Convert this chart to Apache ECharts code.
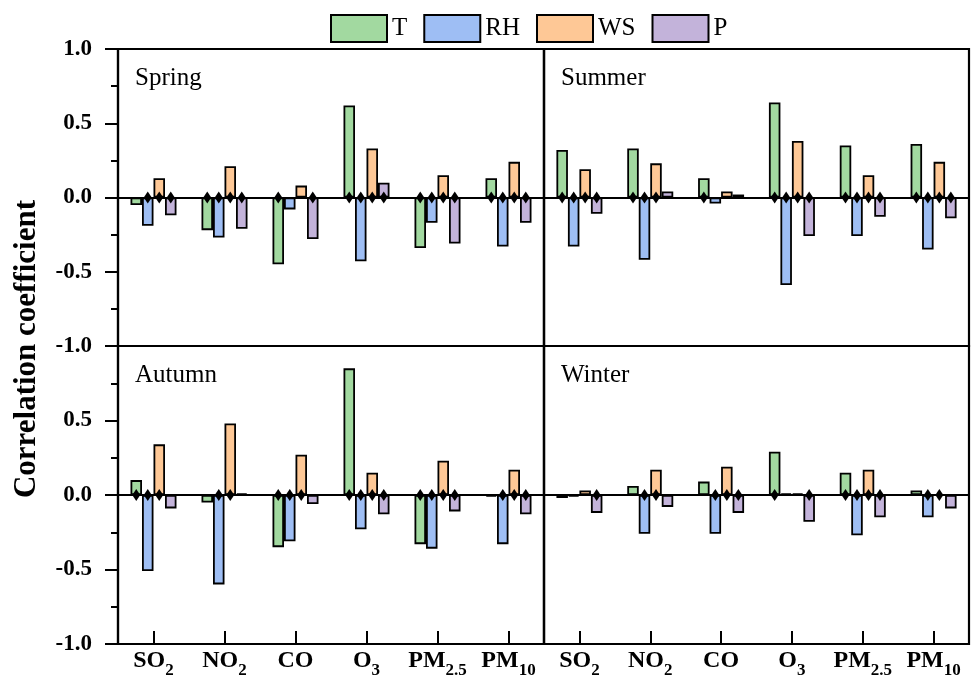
<!DOCTYPE html>
<html>
<head>
<meta charset="utf-8">
<style>
  html, body { margin: 0; padding: 0; background: #fff; }
  #chart { width: 972px; height: 682px; }
</style>
<script src="https://cdn.jsdelivr.net/npm/echarts@6/dist/echarts.min.js"></script>
</head>
<body>
<div id="chart"></div>
<script>
// Pollutants on the category axis
const pollutants = ['SO2', 'NO2', 'CO', 'O3', 'PM2.5', 'PM10'];
// Meteorological factors (one bar series each)
const factors = ['T', 'RH', 'WS', 'P'];
const factorColors = ['#a2d9a0', '#9ebef4', '#fec896', '#c3b3da'];
const seasons = ['Spring', 'Summer', 'Autumn', 'Winter'];
const yTicks = [-1, -0.5, 0, 0.5, 1];

// Correlation coefficients, one array per factor, per season
const springT  = [-0.05, -0.22, -0.45, 0.62, -0.34, 0.13];
const springRH = [-0.19, -0.27, -0.08, -0.43, -0.17, -0.33];
const springWS = [0.13, 0.21, 0.08, 0.33, 0.15, 0.24];
const springP  = [-0.12, -0.21, -0.28, 0.10, -0.31, -0.17];

const summerT  = [0.32, 0.33, 0.13, 0.64, 0.35, 0.36];
const summerRH = [-0.33, -0.42, -0.04, -0.59, -0.26, -0.35];
const summerWS = [0.19, 0.23, 0.04, 0.38, 0.15, 0.24];
const summerP  = [-0.11, 0.04, 0.02, -0.26, -0.13, -0.14];

const autumnT  = [0.10, -0.05, -0.35, 0.85, -0.33, -0.01];
const autumnRH = [-0.51, -0.60, -0.31, -0.23, -0.36, -0.33];
const autumnWS = [0.34, 0.48, 0.27, 0.15, 0.23, 0.17];
const autumnP  = [-0.09, 0.01, -0.06, -0.13, -0.11, -0.13];

const winterT  = [-0.02, 0.06, 0.09, 0.29, 0.15, 0.03];
const winterRH = [-0.01, -0.26, -0.26, 0.01, -0.27, -0.15];
const winterWS = [0.03, 0.17, 0.19, 0.01, 0.17, 0.00];
const winterP  = [-0.12, -0.08, -0.12, -0.18, -0.15, -0.09];

// Significance markers (1 = diamond drawn at the bar's base)
const springSig = [[0,1,1,1,1,1], [1,1,0,1,1,1], [1,1,0,1,1,1], [1,1,1,1,1,1]];
const summerSig = [[1,1,1,1,1,1], [1,1,0,1,1,1], [1,1,0,1,1,1], [1,0,0,1,1,1]];
const autumnSig = [[1,0,1,1,1,0], [1,1,1,1,1,1], [1,1,1,1,1,1], [0,0,0,1,1,1]];
const winterSig = [[0,0,0,1,1,0], [0,1,1,0,1,1], [0,1,1,0,1,1], [1,0,1,1,1,0]];

const seasonValues = [
  [springT, springRH, springWS, springP],
  [summerT, summerRH, summerWS, summerP],
  [autumnT, autumnRH, autumnWS, autumnP],
  [winterT, winterRH, winterWS, winterP]
];
const seasonSig = [springSig, summerSig, autumnSig, winterSig];

const FONT = 'Liberation Serif';

// Panel layout: 2 x 2
const panels = [
  { left: 118, top: 49, width: 426, height: 297, col: 0, row: 0 },
  { left: 544, top: 49, width: 425, height: 297, col: 1, row: 0 },
  { left: 118, top: 346, width: 426, height: 298, col: 0, row: 1 },
  { left: 544, top: 346, width: 425, height: 298, col: 1, row: 1 }
];

function pollutantLabel(name) {
  const m = name.match(/^([A-Z]+)([\d.]*)$/);
  if (!m || !m[2]) return '{b|' + name + '}';
  return '{b|' + m[1] + '}{s|' + m[2] + '}';
}

const grids = [], xAxes = [], yAxes = [], series = [], titles = [];

panels.forEach((p, g) => {
  grids.push({
    left: p.left, top: p.top, width: p.width, height: p.height,
    show: true, borderColor: '#000', borderWidth: 2.2, containLabel: false
  });

  // zero line axis
  xAxes.push({
    type: 'category', gridIndex: g, data: pollutants,
    axisLine: { show: true, onZero: true, lineStyle: { color: '#000', width: 2.2 } },
    axisTick: { show: false }, axisLabel: { show: false }, splitLine: { show: false }
  });
  // bottom axis with ticks and labels
  xAxes.push({
    type: 'category', gridIndex: g, data: pollutants, position: 'bottom',
    axisLine: { show: true, onZero: false, lineStyle: { color: '#000', width: 2.2 } },
    axisTick: { show: p.row === 1, inside: true, length: 13, alignWithLabel: true,
                lineStyle: { color: '#000', width: 2 } },
    axisLabel: {
      show: p.row === 1, margin: 5, interval: 0,
      formatter: pollutantLabel,
      rich: {
        b: { fontFamily: FONT, fontWeight: 'bold', fontSize: 24, color: '#000',
             lineHeight: 26, verticalAlign: 'top' },
        s: { fontFamily: FONT, fontWeight: 'bold', fontSize: 17, color: '#000',
             lineHeight: 17, padding: [13, 0, 0, 0], verticalAlign: 'top' }
      }
    },
    splitLine: { show: false }
  });

  yAxes.push({
    type: 'value', gridIndex: g, min: yTicks[0], max: yTicks[yTicks.length - 1], interval: 0.5,
    axisLine: { show: true, lineStyle: { color: '#000', width: 2.2 } },
    axisTick: { show: p.col === 0, inside: false, length: 13, lineStyle: { color: '#000', width: 2 } },
    minorTick: { show: p.col === 0, splitNumber: 2, length: 7, lineStyle: { color: '#000', width: 2 } },
    axisLabel: {
      show: p.col === 0, margin: 26, showMaxLabel: p.row === 0,
      fontFamily: FONT, fontWeight: 'bold', fontSize: 23, color: '#000',
      formatter: v => v.toFixed(1)
    },
    splitLine: { show: false }
  });

  titles.push({
    text: seasons[g],
    left: p.left + 12, top: p.top + 12,
    textStyle: { fontFamily: FONT, fontWeight: 'normal', fontSize: 25, color: '#000' }
  });

  factors.forEach((f, k) => {
    const vals = seasonValues[g][k];
    const sig = seasonSig[g][k];
    series.push({
      type: 'bar', name: f, xAxisIndex: g * 2, yAxisIndex: g,
      data: vals, barWidth: 11.5, barGap: '0%',
      itemStyle: { color: factorColors[k], borderColor: '#000', borderWidth: 1.8 },
      emphasis: { disabled: true },
      markPoint: {
        symbol: 'diamond', symbolSize: [8, 12], silent: true, animation: false,
        itemStyle: { color: '#000' },
        label: { show: false },
        data: pollutants.map((c, i) => sig[i] ? { coord: [c, 0] } : null).filter(Boolean)
      }
    });
  });
});

const chart = echarts.init(document.getElementById('chart'), null, { renderer: 'canvas' });
chart.setOption({
  animation: false,
  backgroundColor: '#fff',
  title: titles,
  legend: {
    data: factors, top: 9, left: 325,
    itemWidth: 56, itemHeight: 27, itemGap: 16,
    icon: 'rect',
    textStyle: { fontFamily: FONT, fontSize: 25, color: '#000' }
  },
  grid: grids,
  xAxis: xAxes,
  yAxis: yAxes,
  series: series,
  graphic: [{
    type: 'text', x: 27, y: 349, rotation: Math.PI / 2,
    style: {
      text: 'Correlation coefficient', fill: '#000',
      font: 'bold 31px "Liberation Serif"',
      textAlign: 'center', textVerticalAlign: 'middle'
    }
  }]
});
</script>
</body>
</html>
